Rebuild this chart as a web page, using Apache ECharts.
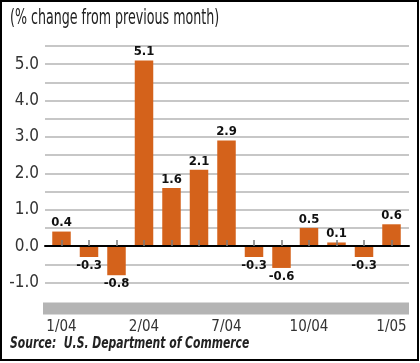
<!DOCTYPE html>
<html>
<head>
<meta charset="utf-8">
<script src="https://cdn.jsdelivr.net/npm/echarts@6/dist/echarts.min.js"></script>
<style>html,body{margin:0;padding:0;background:#fff;}#c{width:420px;height:363px;}</style>
</head>
<body>
<div id="c"></div>
<script>
// Data
const months = ['1/04','2/04','3/04','4/04','5/04','6/04','7/04','8/04','9/04','10/04','11/04','12/04','1/05'];
const changes = [0.4, -0.3, -0.8, 5.1, 1.6, 2.1, 2.9, -0.3, -0.6, 0.5, 0.1, -0.3, 0.6];
const tickLabels = ['1/04','','','2/04','','','7/04','','','10/04','','','1/05'];
const yMin = -1.0, yMax = 5.5, yStep = 0.5;
const titleText = '(% change from previous month)';
const sourceText = 'Source:  U.S. Department of Commerce';

const FONT = "'DejaVu Sans Condensed','Liberation Sans Narrow',sans-serif";
const chart = echarts.init(document.getElementById('c'), null, {renderer:'canvas'});
const gTop = 46, gHeight = 236.5;
chart.setOption({
  animation: false,
  backgroundColor: '#fff',
  grid: [
    {left: 45, width: 364, top: gTop, height: gHeight},
    {left: 47.75, width: 357.5, top: gTop, height: gHeight}
  ],
  xAxis: [
    {gridIndex: 0, type: 'value', min: 0, max: 1, axisLabel: {show: false}, axisTick: {show: false},
     splitLine: {show: false}, axisLine: {show: true, onZero: true, lineStyle: {color: '#000', width: 2}}, z: 5},
    {gridIndex: 1, type: 'category', data: months, position: 'bottom', offset: 20,
     axisLine: {show: true, lineStyle: {color: 'rgba(0,0,0,0)', width: 1}},
     axisTick: {show: true, inside: true, alignWithLabel: true, interval: 0, length: 6, lineStyle: {color: '#7a7a7a', width: 1.5}},
     axisLabel: {interval: 0, margin: 17, fontFamily: FONT, fontSize: 15, color: '#333',
       formatter: (v, i) => tickLabels[i]}, z: 6}
  ],
  yAxis: [
    {gridIndex: 0, type: 'value', min: yMin, max: yMax, interval: yStep,
     axisLine: {show: false}, axisTick: {show: false},
     splitLine: {show: true, lineStyle: {color: '#b5b5b5', width: 1.5}},
     axisLabel: {margin: 6, fontFamily: FONT, fontSize: 17, color: '#333',
       formatter: v => (Math.abs(v - Math.round(v)) < 1e-9 ? v.toFixed(1) : '')}},
    {gridIndex: 1, type: 'value', min: yMin, max: yMax, interval: yStep, show: false}
  ],
  series: [{
    type: 'bar', xAxisIndex: 1, yAxisIndex: 1, barWidth: 18.5,
    itemStyle: {color: '#d4621b'},
    label: {show: true, distance: 2, fontFamily: FONT, fontSize: 13, fontWeight: 'bold', color: '#111',
      formatter: p => p.value.toFixed(1)},
    data: changes.map(v => ({value: v, label: {position: v < 0 ? 'bottom' : 'top'}})),
    z: 3
  }],
  graphic: [
    {type: 'rect', shape: {x: 43, y: 302.5, width: 366, height: 12}, style: {fill: '#b4b4b4'}, z: 0},
    {type: 'text', x: 10, y: 8, scaleX: 0.67, style: {text: titleText, font: "21px " + FONT, fill: '#222', verticalAlign: 'top'}},
    {type: 'text', x: 10, y: 336, scaleX: 0.75, style: {text: sourceText, font: "italic bold 16px " + FONT, fill: '#222', verticalAlign: 'top'}},
    {type: 'rect', shape: {x: 1, y: 1, width: 417, height: 359}, style: {fill: null, stroke: '#000', lineWidth: 2}, z: 100}
  ]
});
</script>
</body>
</html>
